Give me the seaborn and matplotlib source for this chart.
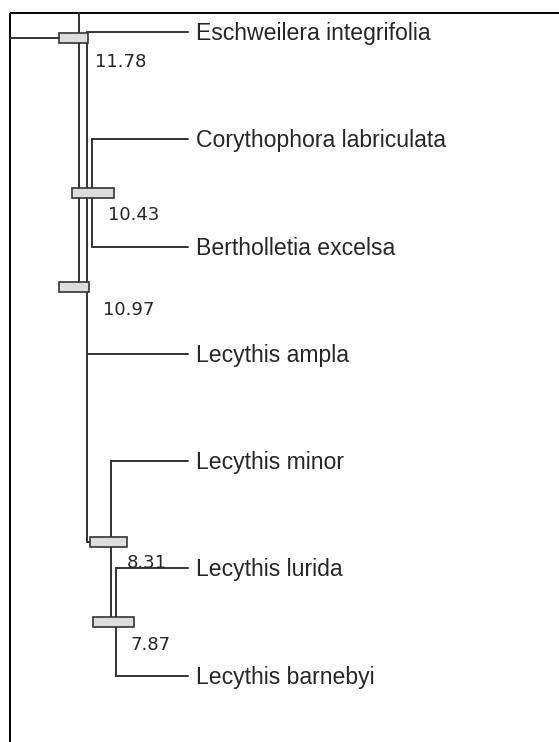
import matplotlib
matplotlib.use("Agg")
import pandas as pd
import seaborn as sns
import matplotlib.pyplot as plt

sns.set_theme(style="white")
plt.rcParams['font.family'] = ['Liberation Sans', 'DejaVu Sans']

# tips of the tree (top to bottom)
taxa = ['Eschweilera integrifolia', 'Corythophora labriculata', 'Bertholletia excelsa',
        'Lecythis ampla', 'Lecythis minor', 'Lecythis lurida', 'Lecythis barnebyi']
tip_y = [32, 139, 247, 354, 461, 568, 676]
tip_x0 = [87, 92, 92, 87, 111, 116, 116]   # where each tip branch starts
tip_x1 = 188

# internal nodes: age label, bar interval, bar row, label anchor
node_age = ['11.78', '10.43', '10.97', '8.31', '7.87']
bar_lo = [59, 72, 59, 90, 93]
bar_hi = [88, 114, 89, 127, 134]
bar_y = [38, 192.5, 287, 542, 622]
lab_x = [95, 108, 103, 127, 131]
lab_y = [67, 220, 315, 568, 650]

# vertical connectors (x, y_top, y_bottom)
vert_x = [79, 87, 92, 111, 116]
vert_y0 = [13, 32, 139, 461, 568]
vert_y1 = [287, 542, 247, 617, 676]

# other horizontal pieces (y, x_start, x_end): root stem, hook into 8.31 bar
stem_y = [38, 542]
stem_x0 = [10, 87]
stem_x1 = [59, 90]

rows = []
k = 0
for y, x0 in zip(tip_y, tip_x0):
    rows += [(k, x0, y), (k, tip_x1, y)]
    k += 1
for x, y0, y1 in zip(vert_x, vert_y0, vert_y1):
    rows += [(k, x, y0), (k, x, y1)]
    k += 1
for y, x0, x1 in zip(stem_y, stem_x0, stem_x1):
    rows += [(k, x0, y), (k, x1, y)]
    k += 1
segs = pd.DataFrame(rows, columns=['seg', 'x', 'y'])

fig = plt.figure(figsize=(5.59, 7.42), dpi=100)
ax = fig.add_axes([0, 0, 1, 1])

# frame (top and left edges)
ax.plot([10, 559], [13, 13], color='black', lw=1.4, solid_capstyle='butt')
ax.plot([10, 10], [13, 742], color='black', lw=1.4, solid_capstyle='butt')

sns.lineplot(data=segs, x='x', y='y', units='seg', estimator=None, sort=False,
             color='#333333', lw=1.4, legend=False, ax=ax)

ax.barh(bar_y, [h - l for l, h in zip(bar_lo, bar_hi)], left=bar_lo, height=10,
        color='#dddddd', edgecolor='#333333', lw=1.2, zorder=5)

for name, y in zip(taxa, tip_y):
    ax.annotate(name, (tip_x1, y), xytext=(6, -6), textcoords='offset points',
                fontsize=16.6, color='#262626', va='baseline', ha='left')

for age, x, y in zip(node_age, lab_x, lab_y):
    ax.text(x, y, age, fontsize=13, color='#262626', va='baseline', ha='left',
            family=['DejaVu Sans'])

ax.set_xlim(0, 559)
ax.set_ylim(742, 0)
ax.axis('off')

fig.savefig('out.png', dpi=100, facecolor='white')
